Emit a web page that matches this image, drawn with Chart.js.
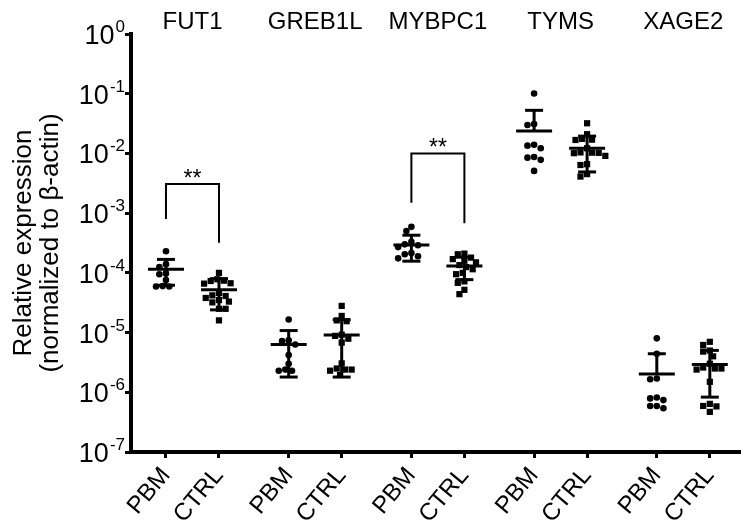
<!DOCTYPE html>
<html>
<head>
<meta charset="utf-8">
<script src="https://cdn.jsdelivr.net/npm/chart.js@4.4.1/dist/chart.umd.min.js"></script>
<style>
  html, body { margin: 0; padding: 0; background: #fff; }
</style>
</head>
<body>
<canvas id="dotplot" width="745" height="526"></canvas>
<script>
const genes = ['FUT1', 'GREB1L', 'MYBPC1', 'TYMS', 'XAGE2'];
const groups = ['PBM', 'CTRL'];
const yTicks = [1e-7, 1e-6, 1e-5, 1e-4, 1e-3, 1e-2, 1e-1, 1];

// individual samples
const pbmValues = [
    [2.3e-4, 1.4e-4, 1.25e-4, 9.8e-5, 9.5e-5, 7.6e-5, 6.0e-5, 5.9e-5, 5.9e-5],
    [1.66e-5, 7.4e-6, 7.2e-6, 6.3e-6, 4.2e-6, 3.0e-6, 2.4e-6, 2.3e-6, 2.3e-6],
    [5.9e-4, 5.0e-4, 3.3e-4, 3.0e-4, 2.9e-4, 2.7e-4, 2.15e-4, 2.05e-4, 1.9e-4, 1.75e-4],
    [0.101, 0.031, 0.030, 0.014, 0.0135, 0.0122, 0.0087, 0.0085, 0.0078, 0.0051],
    [8.0e-6, 4.4e-6, 1.7e-6, 1.65e-6, 8.2e-7, 7.9e-7, 7.4e-7, 5.9e-7, 5.9e-7, 5.4e-7]
];
const ctrlValues = [
    [1.0e-4, 7.8e-5, 7.4e-5, 7.3e-5, 6.7e-5, 6.6e-5, 4.6e-5, 4.2e-5, 4.1e-5, 3.8e-5, 3.5e-5, 3.3e-5, 3.2e-5, 2.5e-5, 2.5e-5, 1.6e-5],
    [2.8e-5, 1.9e-5, 1.6e-5, 1.55e-5, 9.2e-6, 8.8e-6, 7.9e-6, 6.8e-6, 3.05e-6, 2.5e-6, 2.4e-6, 2.4e-6, 2.3e-6, 1.95e-6],
    [2.1e-4, 2.05e-4, 1.8e-4, 1.7e-4, 1.6e-4, 1.5e-4, 1.35e-4, 1.25e-4, 1.15e-4, 1.0e-4, 9.5e-5, 7.2e-5, 6.8e-5, 5.2e-5, 4.4e-5],
    [0.032, 0.021, 0.0175, 0.017, 0.0168, 0.0122, 0.0104, 0.0103, 0.0102, 0.0101, 0.0091, 0.0066, 0.0064, 0.0045, 0.0041],
    [7.0e-6, 6.2e-6, 5.0e-6, 4.8e-6, 4.0e-6, 3.0e-6, 2.6e-6, 2.5e-6, 2.5e-6, 2.4e-6, 1.5e-6, 6.4e-7, 5.9e-7, 5.8e-7, 4.7e-7]
];

// mean and SD as drawn
const pbmMean = [1.15e-4, 6.3e-6, 2.92e-4, 0.0237, 2.02e-6];
const pbmSd = [5.3e-5, 4.5e-6, 1.35e-4, 0.029, 2.4e-6];
const ctrlMean = [5.2e-5, 9.1e-6, 1.3e-4, 0.0122, 2.93e-6];
const ctrlSd = [2.8e-5, 7.3e-6, 5.3e-5, 0.0073, 2.1e-6];

// significance brackets: gene, top, left leg end, right leg end
const brackets = [
    { gene: 0, top: 3.07e-3, left: 8.0e-4, right: 3.2e-4, text: '**' },
    { gene: 2, top: 1.0e-2, left: 1.5e-3, right: 6.8e-4, text: '**' }
];

const FONT = "'Liberation Sans', Arial, sans-serif";
const PBM_OFF = 0.285;
const CTRL_OFF = 0.717;

// simple beeswarm so points with close values sit side by side
function swarm(values, center) {
    const stepX = 0.054, stepY = 0.11;
    const placed = [];
    return values.map(v => {
        const ly = Math.log10(v);
        let best = 0;
        for (let i = 0; i < 80; i++) {
            const off = (i % 2 ? -1 : 1) * Math.ceil(i / 2) * stepX / 4;
            const hit = placed.some(p => ((p.x - off) / stepX) ** 2 + ((p.ly - ly) / stepY) ** 2 < 0.97);
            if (!hit) { best = off; break; }
        }
        placed.push({ x: best, ly });
        return { x: center + best, y: v };
    });
}

const pbmPoints = pbmValues.flatMap((vals, k) => swarm(vals, k + PBM_OFF));
const ctrlPoints = ctrlValues.flatMap((vals, k) => swarm(vals, k + CTRL_OFF));
const xTickValues = genes.flatMap((g, k) => [k + PBM_OFF, k + CTRL_OFF]);

const decorPlugin = {
    id: 'decor',
    afterDraw(chart) {
        const { ctx, scales: { x, y }, chartArea } = chart;
        ctx.save();
        ctx.fillStyle = '#000';
        ctx.strokeStyle = '#000';

        // y tick labels 10^n
        yTicks.forEach(v => {
            const py = y.getPixelForValue(v);
            const exp = String(Math.round(Math.log10(v)));
            ctx.font = '17px ' + FONT;
            const ew = ctx.measureText(exp).width;
            const right = chartArea.left - 6;
            ctx.textAlign = 'left';
            ctx.textBaseline = 'alphabetic';
            ctx.fillText(exp, right - ew, py - 2);
            ctx.font = '27px ' + FONT;
            ctx.textAlign = 'right';
            ctx.fillText('10', right - ew - 1, py + 10);
        });

        // y title
        ctx.save();
        ctx.translate(0, (chartArea.top + chartArea.bottom) / 2);
        ctx.rotate(-Math.PI / 2);
        ctx.font = '26px ' + FONT;
        ctx.textAlign = 'center';
        ctx.textBaseline = 'middle';
        ctx.fillText('Relative expression', 0, 24);
        ctx.fillText('(normalized to \u03b2-actin)', 0, 51);
        ctx.restore();

        // gene titles
        ctx.font = '24px ' + FONT;
        ctx.textAlign = 'center';
        ctx.textBaseline = 'middle';
        genes.forEach((g, k) => {
            ctx.fillText(g, x.getPixelForValue(k + (PBM_OFF + CTRL_OFF) / 2), 22);
        });

        // brackets
        ctx.lineWidth = 2;
        brackets.forEach(b => {
            const x1 = x.getPixelForValue(b.gene + PBM_OFF);
            const x2 = x.getPixelForValue(b.gene + CTRL_OFF);
            const yt = y.getPixelForValue(b.top);
            ctx.beginPath();
            ctx.moveTo(x1, y.getPixelForValue(b.left));
            ctx.lineTo(x1, yt);
            ctx.lineTo(x2, yt);
            ctx.lineTo(x2, y.getPixelForValue(b.right));
            ctx.stroke();
            ctx.font = '23px ' + FONT;
            ctx.textAlign = 'center';
            ctx.textBaseline = 'alphabetic';
            ctx.fillText(b.text, (x1 + x2) / 2, yt + 2);
        });
        ctx.restore();
    },
    afterDatasetsDraw(chart) {
        const { ctx, scales: { x, y } } = chart;
        ctx.save();
        ctx.strokeStyle = '#000';
        ctx.lineWidth = 3;
        const line = (x1, y1, x2, y2) => {
            ctx.beginPath(); ctx.moveTo(x1, y1); ctx.lineTo(x2, y2); ctx.stroke();
        };
        genes.forEach((g, k) => {
            [[pbmMean, pbmSd, PBM_OFF], [ctrlMean, ctrlSd, CTRL_OFF]].forEach(([m, s, off]) => {
                const px = x.getPixelForValue(k + off);
                const pm = y.getPixelForValue(m[k]);
                const ph = y.getPixelForValue(m[k] + s[k]);
                const lo = m[k] - s[k];
                line(px - 18, pm, px + 18, pm);
                line(px, ph, px, pm);
                line(px - 9, ph, px + 9, ph);
                if (lo > 0) {
                    const pl = y.getPixelForValue(lo);
                    line(px, pm, px, pl);
                    line(px - 9, pl, px + 9, pl);
                }
            });
        });
        ctx.restore();
    }
};

new Chart(document.getElementById('dotplot'), {
    type: 'scatter',
    data: {
        datasets: [{
            label: 'PBM',
            data: pbmPoints,
            pointStyle: 'circle',
            pointRadius: 3.3,
            backgroundColor: '#000',
            borderWidth: 0
        }, {
            label: 'CTRL',
            data: ctrlPoints,
            pointStyle: 'rect',
            pointRadius: 4.4,
            backgroundColor: '#000',
            borderWidth: 0
        }]
    },
    options: {
        responsive: false,
        animation: false,
        devicePixelRatio: 1,
        layout: { padding: { top: 34, right: 5, left: 0, bottom: 0 } },
        plugins: { legend: { display: false }, tooltip: { enabled: false } },
        scales: {
            x: {
                type: 'linear',
                min: 0,
                max: 4.963,
                afterBuildTicks: scale => { scale.ticks = xTickValues.map(v => ({ value: v })); },
                afterFit: scale => { scale.height = 74; },
                ticks: {
                    autoSkip: false,
                    minRotation: 50,
                    maxRotation: 50,
                    padding: 4,
                    color: '#000',
                    font: { family: FONT, size: 24 },
                    callback: (value, index) => groups[index % 2]
                },
                grid: { drawOnChartArea: false, tickLength: 6, tickWidth: 3, tickColor: '#000' },
                border: { display: true, color: '#000', width: 4 }
            },
            y: {
                type: 'logarithmic',
                min: 1e-7,
                max: 1,
                afterBuildTicks: scale => { scale.ticks = yTicks.map(v => ({ value: v })); },
                afterFit: scale => { scale.width = 131; },
                ticks: { display: false },
                grid: { drawOnChartArea: false, tickLength: 6, tickWidth: 3, tickColor: '#000' },
                border: { display: true, color: '#000', width: 4 }
            }
        }
    },
    plugins: [decorPlugin]
});
</script>
</body>
</html>
